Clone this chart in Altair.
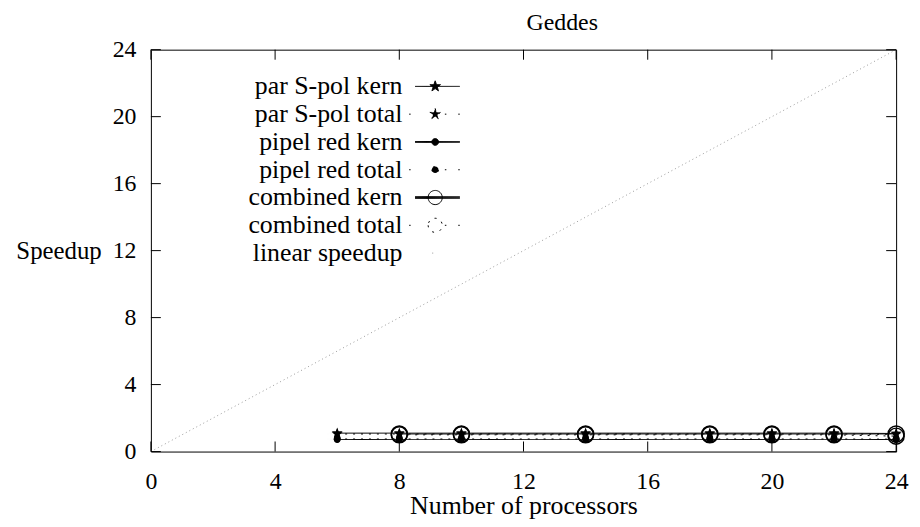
import altair as alt
import pandas as pd

# ---------------- data ----------------
series_names = [
    "par S-pol kern",
    "par S-pol total",
    "pipel red kern",
    "pipel red total",
    "combined kern",
    "combined total",
    "linear speedup",
]

procs = [6, 8, 10, 14, 18, 20, 22, 24]
procs_combined = [8, 10, 14, 18, 20, 22, 24]
par_spol_kern = [1.10, 1.10, 1.10, 1.10, 1.10, 1.10, 1.10, 1.08]
par_spol_total = [1.05, 1.05, 1.05, 1.05, 1.05, 1.05, 1.05, 1.03]
pipel_red_kern = [0.72, 0.72, 0.72, 0.72, 0.72, 0.72, 0.72, 0.72]
pipel_red_total = [0.75, 0.75, 0.75, 0.75, 0.75, 0.75, 0.75, 0.74]
combined_kern = [1.05, 1.05, 1.05, 1.05, 1.05, 1.05, 1.05]
combined_total = [1.00, 1.00, 1.00, 1.00, 1.00, 1.00, 0.92]
linear_x = [0, 24]
linear_y = [0, 24]

tick_values = [0, 4, 8, 12, 16, 20, 24]

# ---------------- styling ----------------
FONT = "Liberation Serif"

line_colors = ["black", "black", "black", "black", "black", "black", "#9a9a9a"]
line_dashes = [[1, 0], [2, 6], [1, 0], [2, 6], [1, 0], [2, 6], [1, 3]]
line_widths = [1, 1, 2, 1, 3, 1, 1]

STAR = ("M0,-0.75L0.176,-0.243L0.713,-0.232L0.285,0.093L0.441,0.607L0,0.3"
        "L-0.441,0.607L-0.285,0.093L-0.713,-0.232L-0.176,-0.243Z")
DOT = "M-0.45,0A0.45,0.45 0 1,0 0.45,0A0.45,0.45 0 1,0 -0.45,0Z"
RING = "M-0.95,0A0.95,0.95 0 1,0 0.95,0A0.95,0.95 0 1,0 -0.95,0Z"
SOLID = "M-2.7,0H3.3"
THICK = "M-2.7,-0.12H3.3M-2.7,0H3.3M-2.7,0.12H3.3"
MEDIUM = "M-2.7,-0.06H3.3M-2.7,0.06H3.3"
DOTTED = "M-3.5,0h0.2M1.3,0h0.2M3.1,0h0.2"

legend_paths = [
    SOLID + STAR,
    DOTTED + STAR,
    MEDIUM + DOT,
    DOTTED + DOT,
    THICK + RING,
    RING + DOTTED,
    "M-0.4,0h0.15",
]
legend_fill = ["black", "black", "black", "black", "transparent", "transparent", "transparent"]

# ---------------- long table ----------------
rows = []
for name, xs, ys in [
    (series_names[0], procs, par_spol_kern),
    (series_names[1], procs, par_spol_total),
    (series_names[2], procs, pipel_red_kern),
    (series_names[3], procs, pipel_red_total),
    (series_names[4], procs_combined, combined_kern),
    (series_names[5], procs_combined, combined_total),
    (series_names[6], linear_x, linear_y),
]:
    for x, y in zip(xs, ys):
        rows.append({"series": name, "procs": x, "speedup": y})
df = pd.DataFrame(rows)
ticks_df = pd.DataFrame({"t": tick_values})

xscale = alt.Scale(domain=[0, 24], nice=False, zero=False)
yscale = alt.Scale(domain=[0, 24], nice=False, zero=False)

x_axis = alt.Axis(
    values=tick_values, format="d", title="Number of processors",
    ticks=False, tickSize=0, domain=False, grid=False,
    labelFont=FONT, labelFontSize=24, labelColor="black",
    labelPadding=37, labelBaseline="alphabetic", labelFlush=False,
    titleFont=FONT, titleFontSize=26, titleFontWeight="normal", titleColor="black",
    titleBaseline="alphabetic", titleY=62,
)
y_axis = alt.Axis(
    values=tick_values, format="d", title="Speedup",
    ticks=False, tickSize=0, domain=False, grid=False,
    labelFont=FONT, labelFontSize=24, labelColor="black",
    labelPadding=15, labelFlush=False,
    titleFont=FONT, titleFontSize=25, titleFontWeight="normal", titleColor="black",
    titleAngle=0, titleAlign="right", titleBaseline="alphabetic",
    titleX=-50, titleY=210,
)

base = alt.Chart(df)

X = alt.X("procs:Q", scale=xscale, axis=x_axis)
Y = alt.Y("speedup:Q", scale=yscale, axis=y_axis)

lines = base.mark_line(clip=True).encode(
    x=X,
    y=Y,
    detail="series:N",
    order="procs:Q",
    color=alt.Color("series:N", scale=alt.Scale(domain=series_names, range=line_colors), legend=None),
    strokeDash=alt.StrokeDash("series:N", scale=alt.Scale(domain=series_names, range=line_dashes), legend=None),
    strokeWidth=alt.StrokeWidth("series:N", scale=alt.Scale(domain=series_names, range=line_widths), legend=None),
)


def marker_layer(names, shape, filled, size, sw):
    return base.transform_filter(
        alt.FieldOneOfPredicate(field="series", oneOf=names)
    ).mark_point(shape=shape, filled=filled, color="black", size=size,
                 strokeWidth=sw, opacity=1).encode(x=X, y=Y)


stars = marker_layer(series_names[0:2], STAR, True, 240, 1)
dots = marker_layer(series_names[2:4], DOT, True, 240, 1)
rings = marker_layer(series_names[4:6], RING, False, 290, 1.5)

legend_props = dict(
    orient="top-left", offset=24, title=None,
    labelAlign="right", labelOffset={"expr": "-46"}, symbolOffset=249.5,
    symbolSize=225, symbolStrokeWidth=1, symbolStrokeColor="black",
    symbolOpacity=1, labelFont=FONT, labelFontSize=26, labelColor="black",
    labelLimit=400, rowPadding=2, padding=0,
)

legend_layer = base.mark_point(opacity=0.01, color="black", strokeWidth=1).encode(
    x=X,
    y=Y,
    shape=alt.Shape("series:N", scale=alt.Scale(domain=series_names, range=legend_paths),
                    legend=alt.Legend(**legend_props)),
    fill=alt.Fill("series:N", scale=alt.Scale(domain=series_names, range=legend_fill),
                  legend=alt.Legend(**legend_props)),
)

tb = alt.Chart(ticks_df)
XT = alt.X("t:Q", scale=xscale, axis=x_axis)
YT = alt.Y("t:Q", scale=yscale, axis=y_axis)
tick_bottom = tb.mark_rule(color="black", strokeWidth=1).encode(
    x=XT, y=alt.YDatum(0, scale=yscale, axis=y_axis), y2=alt.Y2Datum(0.6))
tick_top = tb.mark_rule(color="black", strokeWidth=1).encode(
    x=XT, y=alt.YDatum(24, scale=yscale, axis=y_axis), y2=alt.Y2Datum(23.4))
tick_left = tb.mark_rule(color="black", strokeWidth=1).encode(
    y=YT, x=alt.XDatum(0, scale=xscale, axis=x_axis), x2=alt.X2Datum(0.32))
tick_right = tb.mark_rule(color="black", strokeWidth=1).encode(
    y=YT, x=alt.XDatum(24, scale=xscale, axis=x_axis), x2=alt.X2Datum(23.68))

chart = alt.layer(
    legend_layer, lines, stars, dots, rings,
    tick_bottom, tick_top, tick_left, tick_right,
).properties(
    width=751,
    height=405,
    background="white",
    autosize=alt.AutoSizeParams(type="none"),
    padding={"left": 144, "top": 40, "right": 16, "bottom": 70},
    title=alt.TitleParams(
        text="Geddes", font=FONT, fontSize=24, fontWeight="normal", color="black",
        anchor="middle", dx=39, offset=3,
    ),
).configure_view(
    stroke="black", strokeWidth=1
)

chart.save("out.html", embed_options={"renderer": "svg", "actions": False})
